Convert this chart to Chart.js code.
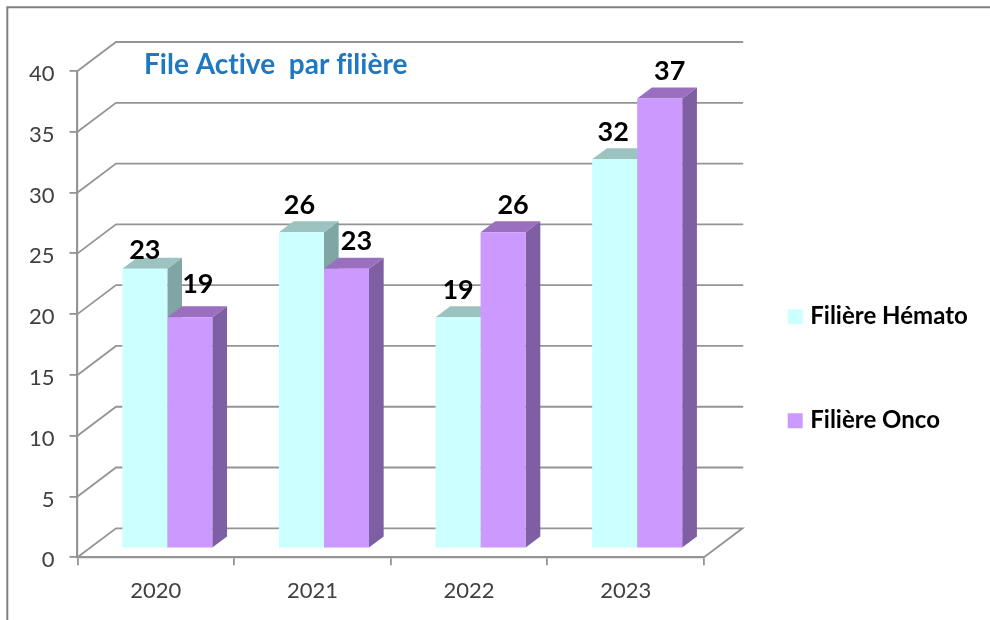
<!DOCTYPE html>
<html>
<head>
<meta charset="utf-8">
<style>
html,body{margin:0;padding:0;background:#fff;}
#wrap{width:990px;height:620px;}
canvas{display:block;filter:blur(0.5px);}
</style>
<script src="https://cdn.jsdelivr.net/npm/chart.js@4"></script>
</head>
<body>
<div id="wrap"><canvas id="c" width="990" height="620"></canvas></div>
<script>
const categories = ['2020', '2021', '2022', '2023'];
const hemato = [23, 26, 19, 32];
const onco = [19, 23, 26, 37];
const seriesNames = ['Filière Hémato', 'Filière Onco'];
const titleText = 'File Active  par filière';

const FONT = 'Lato, Carlito, sans-serif';
const GRID = '#949494';
const WALL = {dx: 38.5, dy: -29};
const BAR_SHIFT = {x: 11.5, y: -9};
const DEPTH = {dx: 14.7, dy: -11};
const SHADES = [
  {front: '#CCFFFF', side: '#7FA5A5', top: '#9DC3C1'},
  {front: '#CC99FF', side: '#7F5FA3', top: '#9A6FBF'}
];
const LABEL = {dy: -27, dx: [0, 10]};
const LABEL_NUDGE = {'0:0': {dx: 0, dy: 8.5}, '1:0': {dx: -2, dy: -6}, '0:1': {dx: -2, dy: 0}, '0:3': {dx: -1.5, dy: 0}};
const Y_LABEL_DROP = 3;

const scene = {
  id: 'scene',
  afterLayout(chart) {
    const lg = chart.legend, w = lg.width, h = lg.height;
    lg.left = 712.2; lg.right = lg.left + w;
    lg.top = 224.7; lg.bottom = lg.top + h;
    const t = chart.titleBlock;
    t.left = 144; t.right = 144 + 400; t.top = 38;
    const y = chart.scales.y;
    y.getLabelItems(chart.chartArea).forEach(item => {
      const tr = item.options.translation;
      item.options.translation = [tr[0], tr[1] + Y_LABEL_DROP];
    });
  },
  beforeDraw(chart) {
    const c = chart.ctx;
    c.letterSpacing = '0.01px';
    c.save();
    c.strokeStyle = '#808080';
    c.lineWidth = 2;
    c.beginPath();
    c.moveTo(990, 7.3); c.lineTo(7.3, 7.3); c.lineTo(7.3, 620);
    c.stroke();
    c.restore();
  },
  beforeDatasetsDraw(chart) {
    const c = chart.ctx, y = chart.scales.y, a = chart.chartArea;
    c.save();
    c.strokeStyle = GRID;
    c.lineCap = 'round';
    y.ticks.forEach(t => {
      const py = y.getPixelForValue(t.value);
      c.lineWidth = 1.8;
      c.beginPath();
      c.moveTo(a.left, py);
      c.lineTo(a.left + WALL.dx, py + WALL.dy);
      c.lineTo(a.right + WALL.dx, py + WALL.dy);
      if (t.value === 0) c.lineTo(a.right, py);
      c.stroke();
    });
    c.translate(BAR_SHIFT.x, BAR_SHIFT.y);
    [0, 1].forEach(i => {
      chart.getDatasetMeta(i).data.forEach(b => {
        const L = b.x - b.width / 2, R = b.x + b.width / 2;
        c.fillStyle = SHADES[i].side;
        c.beginPath();
        c.moveTo(R, b.y); c.lineTo(R + DEPTH.dx, b.y + DEPTH.dy);
        c.lineTo(R + DEPTH.dx, b.base + DEPTH.dy); c.lineTo(R, b.base);
        c.closePath(); c.fill();
        c.fillStyle = SHADES[i].top;
        c.beginPath();
        c.moveTo(L, b.y); c.lineTo(L + DEPTH.dx, b.y + DEPTH.dy);
        c.lineTo(R + DEPTH.dx, b.y + DEPTH.dy); c.lineTo(R, b.y);
        c.closePath(); c.fill();
      });
    });
  },
  afterDatasetsDraw(chart) {
    const c = chart.ctx;
    c.restore();
    c.save();
    c.font = 'bold 27px ' + FONT;
    c.fillStyle = '#000';
    c.textAlign = 'center';
    c.textBaseline = 'middle';
    [0, 1].forEach(i => {
      chart.getDatasetMeta(i).data.forEach((b, j) => {
        const n = LABEL_NUDGE[i + ':' + j] || {dx: 0, dy: 0};
        const v = chart.data.datasets[i].data[j];
        c.fillText(String(v), b.x + BAR_SHIFT.x + LABEL.dx[i] + n.dx, b.y + BAR_SHIFT.y + LABEL.dy + n.dy);
      });
    });
    c.restore();
  }
};

new Chart(document.getElementById('c'), {
  type: 'bar',
  data: {
    labels: categories,
    datasets: [
      {label: seriesNames[0], data: hemato, backgroundColor: SHADES[0].front, borderWidth: 0, clip: false},
      {label: seriesNames[1], data: onco, backgroundColor: SHADES[1].front, borderWidth: 0, clip: false}
    ]
  },
  plugins: [scene],
  options: {
    responsive: false,
    animation: false,
    events: [],
    categoryPercentage: 0.575,
    barPercentage: 1,
    layout: {padding: {left: 0, top: 16.4, right: 286, bottom: 0}},
    plugins: {
      tooltip: {enabled: false},
      title: {
        display: true,
        text: titleText,
        align: 'start',
        color: '#1F78C1',
        font: {family: FONT, weight: 'bold', size: 28, lineHeight: 1.2},
        padding: {top: 10, bottom: 11}
      },
      legend: {
        display: true,
        position: 'chartArea',
        align: 'start',
        labels: {
          boxWidth: 6,
          boxHeight: 6,
          padding: 80,
          color: '#1a1a1a',
          font: {family: FONT, weight: 'bold', size: 24},
          generateLabels(chart) {
            return chart.data.datasets.map((d, i) => ({
              text: d.label, fillStyle: d.backgroundColor, strokeStyle: d.backgroundColor,
              lineWidth: 9, hidden: false, datasetIndex: i
            }));
          }
        }
      }
    },
    scales: {
      x: {
        afterFit(s) { s.height = 62.7; },
        grid: {offset: true, drawOnChartArea: false, drawTicks: true, tickLength: 8, color: GRID, lineWidth: 1.8},
        border: {color: GRID, width: 2.2},
        ticks: {color: '#404040', font: {family: FONT, size: 22}, padding: 12, maxRotation: 0}
      },
      y: {
        min: 0, max: 40,
        afterFit(s) { s.width = 77.5; },
        grid: {drawOnChartArea: false, drawTicks: true, tickLength: 8, color: GRID, lineWidth: 1.8},
        border: {color: GRID, width: 2.2},
        ticks: {stepSize: 5, color: '#404040', font: {family: FONT, size: 22}, padding: 15}
      }
    }
  }
});
</script>
</body>
</html>
